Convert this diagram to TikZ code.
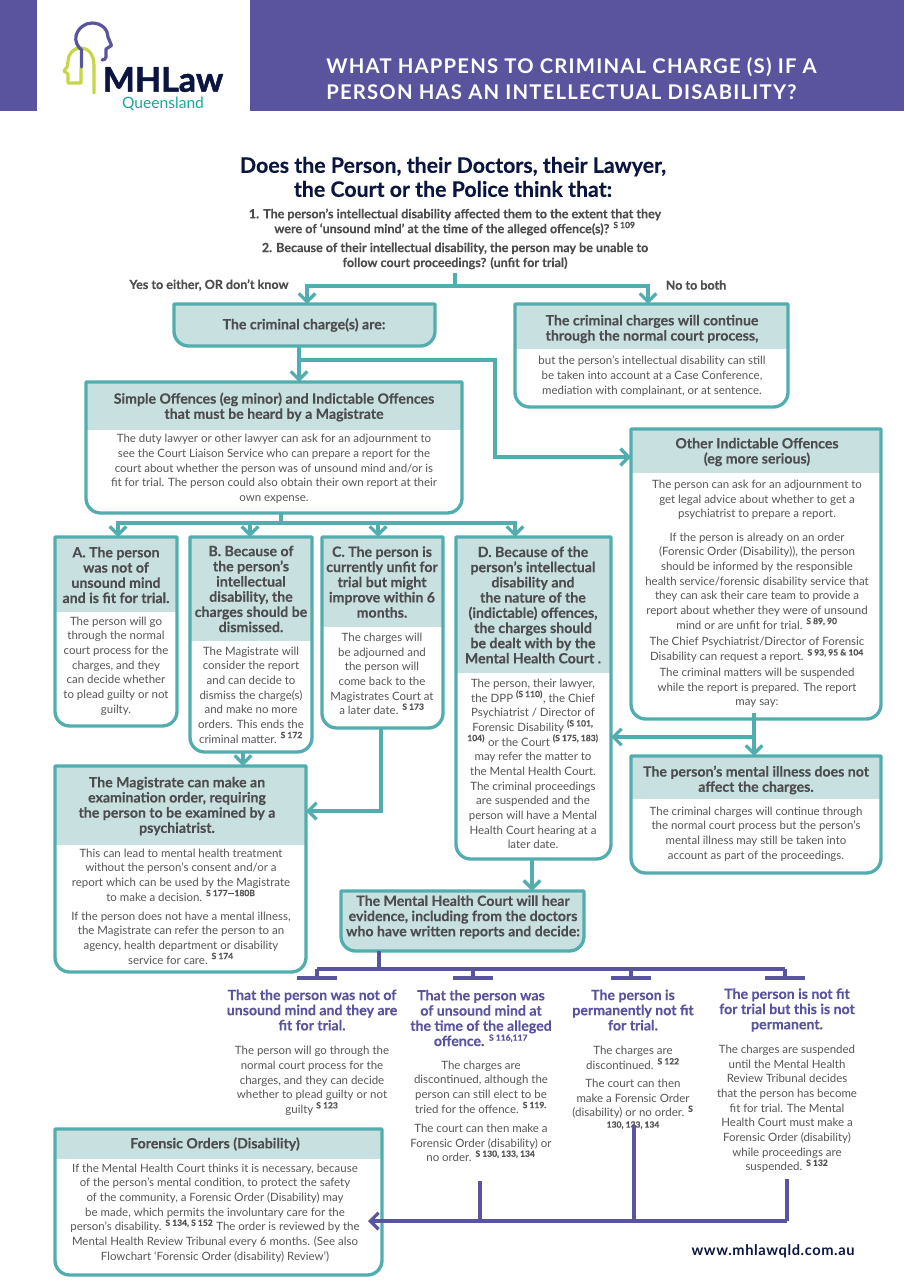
\documentclass[tikz,border=0pt]{standalone}
\usepackage{fontspec}
\usepackage{xcolor}
\usepackage{tikz}
\usetikzlibrary{arrows.meta,positioning,fit,calc}
\setmainfont{Lato}[BoldFeatures={FakeBold=0.25}]
\newfontfamily\bandfont[LetterSpace=6]{Lato}
\newfontfamily\webfont[LetterSpace=4]{Lato}
\newfontfamily\brandfont[BoldFeatures={FakeBold=1.5}]{Lato}
\definecolor{bandviolet}{HTML}{5A549F}
\definecolor{pipeteal}{HTML}{52AEAE}
\definecolor{headfill}{HTML}{C8E1E0}
\definecolor{inkgrey}{HTML}{4D4D4F}
\definecolor{bodygrey}{HTML}{555557}
\definecolor{inknavy}{HTML}{0B1540}
\definecolor{logolime}{HTML}{C5D646}
\definecolor{logoteal}{HTML}{12AB9B}
\newcommand{\srefraw}[1]{\textsuperscript{\bfseries\fontsize{6.4pt}{6.4pt}\selectfont #1}}
\newcommand{\sref}[1]{\srefraw{S #1}}
\newcommand{\panel}[7][fill=none]{%
  \node[panelarea, fit={(#3,#4)(#5,#6)}] (#2) {};
  \fill[headfill] (#2.north west) rectangle (#2.north east |- 0,#7);
  \draw[panelline, #1] (#2.north west) -- (#2.north east) [rounded corners=11pt] -- (#2.south east) -- (#2.south west) [sharp corners] -- cycle;
}
\begin{document}
\begin{tikzpicture}[
    x=0.75pt, y=-0.75pt,
    panelarea/.style={inner sep=0pt, outer sep=0pt},
    panelline/.style={draw=pipeteal, line width=2.5pt, line join=round},
    lead/.style={align=center, inner sep=0pt, text=inkgrey, font=\fontsize{10.6pt}{11.4pt}\selectfont\bfseries},
    body/.style={align=center, inner sep=0pt, text=bodygrey, font=\fontsize{8.6pt}{11pt}\selectfont},
    verdict/.style={align=center, inner sep=0pt, text=bandviolet, font=\fontsize{10.6pt}{11.4pt}\selectfont\bfseries},
    question/.style={align=center, inner sep=0pt, text=inkgrey, font=\fontsize{9.4pt}{11.2pt}\selectfont\bfseries},
    flow/.style={draw=pipeteal, line width=3pt},
    arrow/.style={flow, -{Straight Barb[length=2.2mm,width=4.4mm,line width=2.4pt]}},
    vflow/.style={draw=bandviolet, line width=3pt},
    varrow/.style={vflow, -{Straight Barb[length=2.2mm,width=4.4mm,line width=2.4pt]}},
    vbar/.style={vflow, -{Bar[width=30pt,length=0pt,line width=3pt]}}
]
\useasboundingbox (0,0) rectangle (904,1284);
\fill[bandviolet] (0,0) rectangle (37,111);
\fill[bandviolet] (250,0) rectangle (904,111);
\draw[logolime, line width=2.4pt, line cap=round, line join=round] (94,93) -- (94,66) .. controls (94,54) and (88,48) .. (81,48) .. controls (73,48) and (68,54) .. (68,62) -- (67,67) -- (64,71) -- (68,74) -- (68,83) -- (81,83) -- (81,68);
\draw[bandviolet, line width=2.4pt, line cap=round, line join=round] (81.5,67) -- (81.5,50) .. controls (77,46) and (75,41) .. (76,36) .. controls (78,28) and (85,23) .. (92,23) .. controls (102,23) and (108,30) .. (108,37) -- (111.5,45.5) -- (106,49) -- (106,57) .. controls (106,59) and (104,60) .. (102,60);
\node[inner sep=0pt, text=inknavy, font=\fontsize{25.5pt}{25.5pt}\brandfont\bfseries] (brand) at (163,79.5) {MHLaw};
\node[inner sep=0pt, text=logoteal, font=\fontsize{11.7pt}{11.7pt}\selectfont] (region) at (163,104) {Queensland};
\node[anchor=west, align=left, inner sep=0pt, text=white, font=\fontsize{15.2pt}{19.5pt}\bandfont\bfseries] (title) at (326,79) {WHAT HAPPENS TO CRIMINAL CHARGE (S) IF A\\PERSON HAS AN INTELLECTUAL DISABILITY?};
\node[align=center, inner sep=0pt, text=inknavy, font=\fontsize{16pt}{18pt}\selectfont\bfseries] (ask) at (453,177) {Does the Person, their Doctors, their Lawyer,\\the Court or the Police think that:};
\node[question] (q1) at (455,222) {1. The person’s intellectual disability affected them to the extent that they\\were of ‘unsound mind’ at the time of the alleged offence(s)? \sref{109}};
\node[question] (q2) at (455,256) {2. Because of their intellectual disability, the person may be unable to\\follow court proceedings? (unfit for trial)};
\node[question] (yes) at (209,285) {Yes to either, OR don’t know};
\node[question] (no) at (696,285) {No to both};

\panel[fill=headfill]{charges}{174}{304}{435}{346}{304}
\panel{normal}{515}{304}{788}{407}{349}
\panel{simple}{86}{382}{462}{513}{430}
\panel{other}{631}{429}{881}{719}{473}
\panel{caseA}{55}{537}{177}{726}{612}
\panel{caseB}{190}{537}{312}{752}{641}
\panel{caseC}{322}{537}{443}{728}{627}
\panel{caseD}{456}{537}{611}{859}{673}
\panel{illness}{631}{756}{881}{873}{799}
\panel{exam}{55}{766}{306}{972}{845}
\panel[fill=headfill]{court}{341}{891}{584}{951}{891}
\panel{orders}{55}{1129}{382}{1275}{1159}

\node[lead] (chargeshead) at (304,325) {The criminal charge(s) are:};
\node[lead] (normalhead) at (652,329) {The criminal charges will continue\\through the normal court process,};
\node[body] (normaltext) at (652,376) {but the person’s intellectual disability can still\\be taken into account at a Case Conference,\\mediation with complainant, or at sentence.};
\node[lead] (simplehead) at (274,407) {Simple Offences (eg minor) and Indictable Offences\\that must be heard by a Magistrate};
\node[body] (simpletext) at (274,469) {The duty lawyer or other lawyer can ask for an adjournment to\\see the Court Liaison Service who can prepare a report for the\\court about whether the person was of unsound mind and/or is\\fit for trial. The person could also obtain their own report at their\\own expense.};
\node[lead] (otherhead) at (757,452) {Other Indictable Offences\\(eg more serious)};
\node[body] (othertexta) at (757,500) {The person can ask for an adjournment to\\get legal advice about whether to get a\\psychiatrist to prepare a report.};
\node[body] (othertextb) at (757,581) {If the person is already on an order\\(Forensic Order (Disability)), the person\\should be informed by the responsible\\health service/forensic disability service that\\they can ask their care team to provide a\\report about whether they were of unsound\\mind or are unfit for trial. \sref{89, 90}};
\node[body] (othertextc) at (757,650) {The Chief Psychiatrist/Director of Forensic\\Disability can request a report. \sref{93, 95 \& 104}};
\node[body] (othertextd) at (757,688) {The criminal matters will be suspended\\while the report is prepared. The report\\may say:};
\node[lead] (caseAhead) at (116,575) {A. The person\\was not of\\unsound mind\\and is fit for trial.};
\node[body] (caseAtext) at (116,666) {The person will go\\through the normal\\court process for the\\charges, and they\\can decide whether\\to plead guilty or not\\guilty.};
\node[lead] (caseBhead) at (251,589) {B. Because of\\the person’s\\intellectual\\disability, the\\charges should be\\dismissed.};
\node[body] (caseBtext) at (251,695) {The Magistrate will\\consider the report\\and can decide to\\dismiss the charge(s)\\and make no more\\orders. This ends the\\criminal matter. \sref{172}};
\node[lead] (caseChead) at (382,582) {C. The person is\\currently unfit for\\trial but might\\improve within 6\\months.};
\node[body] (caseCtext) at (382,674) {The charges will\\be adjourned and\\the person will\\come back to the\\Magistrates Court at\\a later date. \sref{173}};
\node[lead] (caseDhead) at (533,605) {D. Because of the\\person’s intellectual\\disability and\\the nature of the\\(indictable) offences,\\the charges should\\be dealt with by the\\Mental Health Court .};
\node[body] (caseDtext) at (533,764) {The person, their lawyer,\\the DPP \srefraw{(S 110)}, the Chief\\Psychiatrist / Director of\\Forensic Disability \srefraw{(S 101,}\\\srefraw{104)} or the Court \srefraw{(S 175, 183)}\\may refer the matter to\\the Mental Health Court.\\The criminal proceedings\\are suspended and the\\person will have a Mental\\Health Court hearing at a\\later date.};
\node[lead] (illnesshead) at (756,780) {The person’s mental illness does not\\affect the charges.};
\node[body] (illnesstext) at (756,834) {The criminal charges will continue through\\the normal court process but the person’s\\mental illness may still be taken into\\account as part of the proceedings.};
\node[lead] (examhead) at (177,806) {The Magistrate can make an\\examination order, requiring\\the person to be examined by a\\psychiatrist.};
\node[body] (examtexta) at (181,875) {This can lead to mental health treatment\\without the person’s consent and/or a\\report which can be used by the Magistrate\\to make a decision. \sref{177—180B}};
\node[body] (examtextb) at (181,938) {If the person does not have a mental illness,\\the Magistrate can refer the person to an\\agency, health department or disability\\service for care. \sref{174}};
\node[lead] (courthead) at (463,917) {The Mental Health Court will hear\\evidence, including from the doctors\\who have written reports and decide:};
\node[verdict] (sounda) at (312,1010) {That the person was not of\\unsound mind and they are\\fit for trial.};
\node[body] (soundtext) at (312,1081) {The person will go through the\\normal court process for the\\charges, and they can decide\\whether to plead guilty or not\\guilty \sref{123}};
\node[verdict] (unsound) at (481,1018) {That the person was\\of unsound mind at\\the time of the alleged\\offence. \sref{116,117}};
\node[body] (unsoundtexta) at (481,1087) {The charges are\\discontinued, although the\\person can still elect to be\\tried for the offence. \sref{119.}};
\node[body] (unsoundtextb) at (481,1143) {The court can then make a\\Forensic Order (disability) or\\no order. \sref{130, 133, 134}};
\node[verdict] (lasting) at (633,1010) {The person is\\permanently not fit\\for trial.};
\node[body] (lastingtexta) at (633,1058) {The charges are\\discontinued. \sref{122}};
\node[body] (lastingtextb) at (633,1104) {The court can then\\make a Forensic Order\\(disability) or no order. \srefraw{S}\\[-3pt]{\bfseries\fontsize{6.4pt}{6.4pt}\selectfont 130, 133, 134}};
\node[verdict] (passing) at (787,1010) {The person is not fit\\for trial but this is not\\permanent.};
\node[body] (passingtext) at (787,1109) {The charges are suspended\\until the Mental Health\\Review Tribunal decides\\that the person has become\\fit for trial. The Mental\\Health Court must make a\\Forensic Order (disability)\\while proceedings are\\suspended. \sref{132}};
\node[lead] (ordershead) at (215,1144) {Forensic Orders (Disability)};
\node[body] (orderstext) at (215,1213) {If the Mental Health Court thinks it is necessary, because\\of the person’s mental condition, to protect the safety\\of the community, a Forensic Order (Disability) may\\be made, which permits the involuntary care for the\\person’s disability. \srefraw{S 134, S 152} The order is reviewed by the\\Mental Health Review Tribunal every 6 months. (See also\\Flowchart ‘Forensic Order (disability) Review’)};
\node[inner sep=0pt, text=inknavy, font=\fontsize{11pt}{11pt}\webfont\bfseries] (web) at (773,1251) {www.mhlawqld.com.au};

\coordinate (splitTop) at (455,273);
\coordinate (split) at (455,286);
\coordinate (yesDrop) at (307,286);
\coordinate (noDrop) at (648,286);
\draw[flow] (splitTop) -- (split);
\draw[arrow] (split) -- (yesDrop) -- (yesDrop |- charges.north);
\draw[arrow] (split) -- (noDrop) -- (noDrop |- normal.north);
\coordinate (trunk) at (299,360);
\coordinate (otherBend) at (495,457);
\draw[arrow] (charges.south -| trunk) -- (simple.north -| trunk);
\draw[arrow] (trunk) -| (otherBend) -- (other.west |- otherBend);
\coordinate (hub) at (281,523);
\coordinate (dropA) at (118,523);
\coordinate (dropB) at (250,523);
\coordinate (dropC) at (378,523);
\coordinate (dropD) at (515,523);
\draw[flow] (simple.south -| hub) -- (hub);
\draw[arrow] (hub) -- (dropA) -- (dropA |- caseA.north);
\draw[arrow] (hub) -- (dropB) -- (dropB |- caseB.north);
\draw[arrow] (hub) -- (dropC) -- (dropC |- caseC.north);
\draw[arrow] (hub) -- (dropD) -- (dropD |- caseD.north);
\coordinate (examDrop) at (243,752);
\draw[arrow] (examDrop) -- (examDrop |- exam.north);
\coordinate (cBend) at (381,811);
\draw[arrow] (caseC.south -| cBend) -- (cBend) -- (exam.east |- cBend);
\coordinate (sayTop) at (754,713);
\coordinate (sayJoin) at (754,737);
\draw[arrow] (sayTop) -- (sayTop |- illness.north);
\draw[arrow] (sayJoin) -- (caseD.east |- sayJoin);
\coordinate (courtDrop) at (532,859);
\draw[arrow] (courtDrop) -- (courtDrop |- court.north);
\coordinate (courtHub) at (379,969);
\coordinate (barA) at (317,980);
\coordinate (barB) at (473,980);
\coordinate (barC) at (631,980);
\coordinate (barD) at (785,980);
\draw[vflow] (court.south -| courtHub) -- (courtHub);
\draw[vflow] (barA |- courtHub) -- (barD |- courtHub);
\draw[vbar] (barA |- courtHub) -- (barA);
\draw[vbar] (barB |- courtHub) -- (barB);
\draw[vbar] (barC |- courtHub) -- (barC);
\draw[vbar] (barD |- courtHub) -- (barD);
\coordinate (backA) at (480,1181);
\coordinate (backB) at (634,1125);
\coordinate (backC) at (787,1179);
\coordinate (backLine) at (787,1221);
\coordinate (ordersIn) at (368,1221);
\draw[vflow] (backA) -- (backA |- backLine);
\draw[vflow] (backB) -- (backB |- backLine);
\draw[vflow] (backC) -- (backLine);
\draw[varrow] (backLine) -- (ordersIn);
\end{tikzpicture}
\end{document}
